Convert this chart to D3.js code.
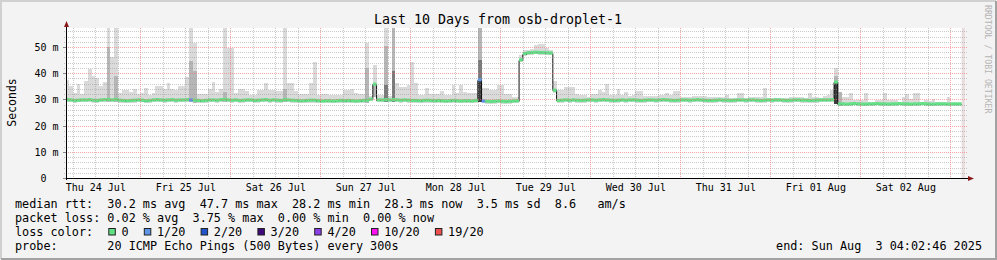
<!DOCTYPE html>
<meta charset="utf-8">
<head>
    <script src="https://d3js.org/d3.v7.min.js"></script>
    <style>
    body { margin: 0; background: #f3f3f3; }
    text { font-family: "DejaVu Sans Mono", monospace; white-space: pre; }
    </style>
</head>
<body>
<script>
// first hourly bucket starts Thu 24 Jul 04:00 UTC, graph covers 10 days
var graphStart = Date.UTC( 2025, 6, 24, 4, 2, 46 ),
    graphEnd   = Date.UTC( 2025, 7, 3, 4, 2, 46 ),
    bucketStart = Date.UTC( 2025, 6, 24, 4, 0, 0 );

// median rtt per hour (ms)
var median = [
29.9,29.8,29.6,29.7,29.8,29.8,29.9,29.7,29.6,29.8,
29.9,30.0,29.8,30.0,29.7,29.6,29.5,29.6,29.7,29.8,
29.7,29.5,29.6,29.8,29.9,29.8,29.7,29.8,29.9,29.7,
29.8,29.8,29.9,29.8,29.7,29.6,29.5,29.6,29.8,29.8,
29.7,29.9,30.0,29.8,29.7,29.8,29.6,29.7,29.8,29.8,
29.6,29.7,29.8,29.9,29.7,29.8,29.7,29.6,29.9,29.8,
29.7,29.6,29.5,29.5,29.6,29.7,29.7,29.5,29.4,29.5,
29.5,29.4,29.5,29.6,29.5,29.6,29.5,29.4,29.5,29.6,
29.7,30.1,35.8,29.8,29.8,29.9,29.8,29.9,29.8,29.7,
29.8,29.7,29.6,29.6,29.5,29.6,29.7,29.6,29.5,29.6,
29.5,29.4,29.5,29.6,29.5,29.4,29.5,29.5,29.4,29.6,
37.5,29.4,29.3,29.2,29.3,29.4,29.3,29.2,29.3,29.4,
29.5,45.1,47.5,47.8,47.9,48.0,47.9,47.9,47.8,47.7,
33.5,29.6,29.7,29.8,29.7,29.8,29.7,29.6,29.7,29.8,
29.8,29.7,29.8,29.9,29.8,29.7,29.6,29.7,29.8,29.7,
29.8,29.8,29.7,29.6,29.7,29.8,29.8,29.7,29.8,29.9,
29.8,29.7,29.6,29.7,29.8,29.8,29.7,29.8,29.9,29.8,
29.7,29.6,29.6,29.7,29.8,29.7,29.7,29.6,29.7,29.8,
29.8,29.7,29.8,29.8,29.7,29.6,29.7,29.8,29.7,29.8,
29.8,29.7,29.6,29.7,29.8,29.8,29.7,29.7,29.6,29.6,
29.7,29.8,29.8,29.8,29.9,36.6,28.3,28.3,28.2,28.3,
28.4,28.3,28.2,28.2,28.3,28.3,28.4,28.3,28.3,28.2,
28.3,28.3,28.4,28.3,28.3,28.2,28.3,28.3,28.4,28.3,
28.2,28.2,28.3,28.3,28.3,28.2,28.3,28.3,28.3,null
];

// lowest ping per hour (ms)
var pingMin = [
29.0,28.9,28.8,28.9,29.0,28.9,29.0,28.8,28.8,28.9,
29.0,29.1,28.9,29.1,28.8,28.7,28.7,28.8,28.8,28.9,
28.9,28.7,28.8,28.9,29.0,28.9,28.8,28.9,29.0,28.8,
28.9,28.9,29.0,28.9,28.8,28.7,28.7,28.8,28.9,28.9,
28.8,29.0,29.1,28.9,28.8,28.9,28.8,28.8,28.9,28.9,
28.8,28.8,28.9,29.0,28.8,28.9,28.8,28.8,29.0,28.9,
28.8,28.7,28.6,28.6,28.7,28.8,28.8,28.6,28.5,28.6,
28.6,28.5,28.6,28.7,28.6,28.7,28.6,28.5,28.6,28.7,
28.8,29.2,31.0,28.9,28.9,28.9,28.9,28.9,28.9,28.8,
28.9,28.8,28.7,28.7,28.6,28.7,28.8,28.7,28.6,28.7,
28.6,28.5,28.6,28.7,28.6,28.5,28.6,28.6,28.5,28.7,
28.9,28.5,28.4,28.3,28.4,28.5,28.4,28.3,28.4,28.5,
28.6,44.3,46.7,47.0,47.1,47.2,47.1,47.1,47.0,46.9,
32.6,28.7,28.8,28.9,28.8,28.9,28.8,28.7,28.8,28.9,
28.9,28.8,28.9,29.0,28.9,28.8,28.7,28.8,28.9,28.8,
28.9,28.9,28.8,28.7,28.8,28.9,28.9,28.8,28.9,29.0,
28.9,28.8,28.7,28.8,28.9,28.9,28.8,28.9,29.0,28.9,
28.8,28.7,28.7,28.8,28.9,28.8,28.8,28.7,28.8,28.9,
28.9,28.8,28.9,28.9,28.8,28.7,28.8,28.9,28.8,28.9,
28.9,28.8,28.7,28.8,28.9,28.9,28.8,28.8,28.7,28.7,
28.8,28.9,28.9,28.9,29.0,28.4,27.6,27.6,27.5,27.6,
27.7,27.6,27.5,27.5,27.6,27.6,27.7,27.6,27.6,27.5,
27.6,27.6,27.7,27.6,27.6,27.5,27.6,27.6,27.7,27.6,
27.5,27.5,27.6,27.6,27.6,27.5,27.6,27.6,27.6,null
];

// highest ping per hour (ms)
var pingMax = [
37.5,35.0,32.5,36.0,32.0,37.0,41.7,39.0,38.0,35.0,
36.7,57.4,46.0,57.4,32.5,33.5,33.5,32.8,34.0,32.0,
32.5,34.3,31.5,32.5,35.3,35.3,34.0,36.3,34.0,33.5,
35.3,35.3,38.5,57.4,51.7,32.0,32.0,32.0,34.0,36.5,
33.0,34.0,57.4,49.6,49.6,32.5,34.0,34.0,33.3,31.7,
31.7,33.7,33.7,36.2,33.7,33.7,33.3,33.3,57.4,36.2,
36.2,33.3,32.1,32.0,32.0,36.2,44.3,31.7,32.0,32.0,
31.8,31.8,31.8,31.8,33.4,33.4,33.9,32.3,32.0,32.0,
51.5,31.3,43.0,31.5,31.5,57.4,31.3,57.4,36.4,34.7,
34.7,35.6,44.3,36.2,31.8,31.8,34.3,32.0,32.0,32.0,
33.3,31.5,31.5,35.6,32.5,35.4,33.0,32.3,32.3,32.3,
57.4,34.3,34.3,33.4,33.4,35.4,35.4,32.0,32.0,31.0,
31.0,47.0,49.0,49.0,49.3,50.8,51.1,51.0,49.5,49.0,
36.9,33.4,33.4,34.7,34.7,34.7,32.0,31.8,31.8,30.8,
32.0,32.0,33.4,33.0,35.9,31.8,31.8,34.0,31.8,33.0,
31.4,31.8,33.3,33.3,31.4,31.4,31.4,31.4,31.8,31.8,
32.6,31.8,33.3,33.3,31.0,31.0,31.0,31.3,31.3,31.4,
31.4,30.9,30.9,30.9,31.0,31.0,31.8,30.7,30.7,32.4,
32.4,30.5,31.0,31.0,30.8,30.9,34.3,30.5,30.5,30.5,
30.5,30.5,30.7,30.8,30.9,31.0,31.0,30.5,32.4,31.0,
31.0,30.6,31.3,31.6,33.7,42.0,33.0,31.0,31.0,32.4,
29.6,29.6,29.6,32.4,29.1,29.1,29.6,29.6,32.4,29.6,
29.6,29.6,29.1,31.0,32.1,30.0,32.4,32.4,29.1,29.6,
29.3,30.3,29.0,29.0,29.0,31.0,28.8,28.8,28.8,null
];

// denser parts of the smoke: [hour index, upper edge in ms]
var midSmoke  = [ [11, 50], [13, 39], [33, 44.5], [34, 41], [42, 33], [58, 34], [80, 42],
                  [82, 36], [85, 50.2], [87, 57.4], [110, 57.4], [205, 38.8], [206, 33] ];
var darkSmoke = [ [85, 35.6], [87, 41], [110, 45.1] ];
var coreSmoke = [ [110, 37.5], [205, 36.6] ];

// hours with packet loss: [hour index, lost pings out of 20]
var lossBuckets = [ [33, 1], [110, 1], [111, 1] ];
// hours with no data yet
var unknownBuckets = [ 239 ];

var yTicks = [ 0, 10, 20, 30, 40, 50 ];
var yTickLabels = [ "0", "10 m", "20 m", "30 m", "40 m", "50 m" ];

var lossLabels = [ "0", "1/20", "2/20", "3/20", "4/20", "10/20", "19/20" ];
var lossLevels = [ 0, 1, 2, 3, 4, 10, 19 ];
var lossColors = [ "#62e085", "#5c94e6", "#2255cc", "#3d0b7a", "#8c3fe6", "#ff10f0", "#ec5050" ];

var titleText = "Last 10 Days from osb-droplet-1";
var medianRttLine = "median rtt:  30.2 ms avg  47.7 ms max  28.2 ms min  28.3 ms now  3.5 ms sd  8.6   am/s";
var packetLossLine = "packet loss: 0.02 % avg  3.75 % max  0.00 % min  0.00 % now";
var probeLine = "probe:       20 ICMP Echo Pings (500 Bytes) every 300s";
var endLine = "end: Sun Aug  3 04:02:46 2025";

// plot area (note: "top" is reserved on window, so prefixed names)
var W = 997, H = 260,
    plotL = 66, plotR = 966, plotT = 28, plotB = 178;

var x = d3.scaleUtc()
    .domain( [ graphStart, graphEnd ] )
    .range( [ 65.5, 965.5 ] );
var y = d3.scaleLinear()
    .domain( [ 0, 57.25 ] )
    .range( [ plotB, plotT ] );

var hour = 3600e3;
function tOf( i ) { return bucketStart + i * hour; }

var svg = d3.select( "body" ).append( "svg" )
    .attr( "width", W )
    .attr( "height", H );

// background and frame
svg.append( "rect" ).attr( "width", W ).attr( "height", H ).attr( "fill", "#f3f3f3" );
svg.append( "path" ).attr( "d", "M1,259V1H996" ).attr( "stroke", "#d0d0d0" ).attr( "stroke-width", 2 ).attr( "fill", "none" );
svg.append( "path" ).attr( "d", "M996,1V259H1" ).attr( "stroke", "#a2a2a2" ).attr( "stroke-width", 2 ).attr( "fill", "none" );

// canvas
svg.append( "rect" )
    .attr( "x", plotL ).attr( "y", plotT )
    .attr( "width", plotR - plotL ).attr( "height", plotB - plotT )
    .attr( "fill", "#ffffff" );

svg.append( "clipPath" ).attr( "id", "plotclip" )
    .append( "rect" )
    .attr( "x", plotL ).attr( "y", plotT )
    .attr( "width", plotR - plotL ).attr( "height", plotB - plotT );

var plot = svg.append( "g" ).attr( "clip-path", "url(#plotclip)" );

/*** smoke ***/
function smokeRects( list, color ) {
    plot.append( "g" )
        .selectAll( "rect" )
        .data( list )
        .enter().append( "rect" )
        .attr( "shape-rendering", "crispEdges" )
        .attr( "x", function(d) { return x( tOf( d[0] ) ); } )
        .attr( "width", function(d) { return x( tOf( d[0] + 1 ) ) - x( tOf( d[0] ) ); } )
        .attr( "y", function(d) { return y( d[1] ); } )
        .attr( "height", function(d) { return y( pingMin[ d[0] ] ) - y( d[1] ); } )
        .attr( "fill", color );
}
var lightSmoke = [];
pingMax.forEach( function(v, i) { if ( v != null ) lightSmoke.push( [ i, v ] ); } );
smokeRects( lightSmoke, "#dadada" );
smokeRects( midSmoke, "#b6b6b6" );
smokeRects( darkSmoke, "#7a7a7a" );
smokeRects( coreSmoke, "#3e3e3e" );

// unknown data
plot.append( "g" )
    .selectAll( "rect" )
    .data( unknownBuckets )
    .enter().append( "rect" )
    .attr( "x", function(d) { return x( tOf( d ) ); } )
    .attr( "width", function(d) { return x( tOf( d + 1 ) ) - x( tOf( d ) ); } )
    .attr( "y", plotT ).attr( "height", plotB - plotT )
    .attr( "fill", "#e9dfe0" );

/*** grid ***/
var grid = svg.append( "g" ).attr( "fill", "none" ).attr( "stroke-dasharray", "1,1" );
d3.range( 2, 57, 2 ).forEach( function(v) {
    var yy = Math.round( y( v ) ) + 0.5;
    grid.append( "line" )
        .attr( "x1", plotL - 2 ).attr( "x2", plotR + 2 )
        .attr( "y1", yy ).attr( "y2", yy )
        .attr( "stroke", v % 10 == 0 ? "rgba(240,110,110,0.6)" : "rgba(150,150,150,0.5)" );
} );
d3.utcHour.every( 6 ).range( new Date( graphStart ), new Date( graphEnd ) ).forEach( function(t) {
    var xx = Math.round( x( t ) ) + 0.5;
    var major = t.getUTCHours() == 0;
    grid.append( "line" )
        .attr( "x1", xx ).attr( "x2", xx )
        .attr( "y1", plotT ).attr( "y2", plotB )
        .attr( "stroke", major ? "rgba(240,110,110,0.6)" : "rgba(150,150,150,0.5)" );
} );

/*** median line, coloured by loss ***/
var medPts = median.map( function(v, i) { return [ tOf( i ), v ]; } );
// close the last known hour
medPts[ median.length - 1 ] = [ tOf( median.length - 1 ), median[ median.length - 2 ] ];
plot.append( "path" )
    .datum( medPts )
    .attr( "fill", "none" )
    .attr( "stroke", "#111" )
    .attr( "stroke-width", 1 )
    .attr( "d", d3.line()
        .defined( function(d) { return d[1] != null; } )
        .curve( d3.curveStepAfter )
        .x( function(d) { return x( d[0] ); } )
        .y( function(d) { return Math.round( y( d[1] ) ) + 0.5; } ) );

var lossOf = {};
lossBuckets.forEach( function(d) { lossOf[ d[0] ] = d[1]; } );
function lossColor( n ) {
    var c = lossColors[0];
    lossLevels.forEach( function(l, k) { if ( n >= l ) c = lossColors[k]; } );
    return c;
}
plot.append( "g" )
    .selectAll( "rect" )
    .data( median.map( function(v, i) { return [ i, v ]; } ).filter( function(d) { return d[1] != null; } ) )
    .enter().append( "rect" )
    .attr( "x", function(d) { return x( tOf( d[0] ) ); } )
    .attr( "width", function(d) { return x( tOf( d[0] + 1 ) ) - x( tOf( d[0] ) ); } )
    .attr( "y", function(d) { return y( d[1] ) - 1.6; } )
    .attr( "height", 3.2 )
    .attr( "fill", function(d) { return lossColor( lossOf[ d[0] ] || 0 ); } );

/*** axes ***/
var axisColor = "#000";
svg.append( "line" )
    .attr( "x1", plotL - 2 ).attr( "x2", plotR + 3 )
    .attr( "y1", plotB + 0.5 ).attr( "y2", plotB + 0.5 )
    .attr( "stroke", axisColor );
svg.append( "line" )
    .attr( "x1", plotL + 0.5 ).attr( "x2", plotL + 0.5 )
    .attr( "y1", plotB + 2 ).attr( "y2", plotT - 3 )
    .attr( "stroke", axisColor );
svg.append( "path" )
    .attr( "d", "M968," + ( plotB - 2 ) + "L974," + ( plotB + 0.5 ) + "L968," + ( plotB + 3 ) + "Z" )
    .attr( "fill", "#8b1a1a" );
svg.append( "path" )
    .attr( "d", "M" + ( plotL - 2 ) + ",27L" + ( plotL + 0.5 ) + ",21L" + ( plotL + 3 ) + ",27Z" )
    .attr( "fill", "#8b1a1a" );

// y ticks and labels
var cw = 6.02;
yTicks.forEach( function(v, i) {
    var yy = Math.round( y( v ) ) + 0.5;
    svg.append( "line" )
        .attr( "x1", plotL - 3 ).attr( "x2", plotL )
        .attr( "y1", yy ).attr( "y2", yy )
        .attr( "stroke", "#888" );
    svg.append( "text" )
        .attr( "x", 58.6 - ( yTickLabels[i].indexOf( "m" ) < 0 ? 2 * cw : 0 ) )
        .attr( "y", yy + 3.6 )
        .attr( "text-anchor", "end" )
        .style( "font-size", "10px" )
        .attr( "fill", "#000" )
        .text( yTickLabels[i] );
} );

// x labels at noon of every day
var noon = d3.utcDay.range( new Date( Date.UTC( 2025, 6, 24 ) ), new Date( graphEnd ) )
    .map( function(d) { return d3.utcHour.offset( d, 12 ); } )
    .filter( function(d) { return d >= graphStart && d <= graphEnd; } );
svg.append( "g" )
    .selectAll( "text" )
    .data( noon )
    .enter().append( "text" )
    .attr( "x", function(d) { return x( d ) + 0.5; } )
    .attr( "y", 190.5 )
    .attr( "text-anchor", "middle" )
    .style( "font-size", "10px" )
    .attr( "fill", "#000" )
    .text( d3.utcFormat( "%a %d %b" ) );

// y title
svg.append( "text" )
    .attr( "transform", "translate(15.5,102.5) rotate(-90)" )
    .attr( "text-anchor", "middle" )
    .style( "font-size", "11.5px" )
    .attr( "fill", "#000" )
    .text( "Seconds" );

// title
svg.append( "text" )
    .attr( "x", 498 ).attr( "y", 24 )
    .attr( "text-anchor", "middle" )
    .style( "font-size", "13.3px" )
    .attr( "fill", "#000" )
    .text( titleText );

// watermark
svg.append( "text" )
    .attr( "transform", "translate(985,5) rotate(90)" )
    .style( "font-size", "8.2px" )
    .attr( "fill", "#b4b4b4" )
    .text( "RRDTOOL / TOBI OETIKER" );

/*** legend ***/
var lw = 7.1, lx = 15, legendSize = "11.8px";
function legendText( str, xx, yy, anchor ) {
    svg.append( "text" )
        .attr( "x", xx ).attr( "y", yy )
        .attr( "text-anchor", anchor || "start" )
        .style( "font-size", legendSize )
        .attr( "fill", "#000" )
        .text( str );
}
legendText( medianRttLine, lx, 207.5 );
legendText( packetLossLine, lx, 221.7 );
legendText( "loss color:", lx, 235.7 );
legendText( probeLine, lx, 250 );
legendText( endLine, 982, 250, "end" );

var col = 13;
lossLabels.forEach( function(lab, k) {
    svg.append( "rect" )
        .attr( "x", lx + col * lw + 1.5 ).attr( "y", 228.5 )
        .attr( "width", 6.5 ).attr( "height", 6.5 )
        .attr( "fill", lossColors[k] )
        .attr( "stroke", "#222" )
        .attr( "stroke-width", 1 );
    legendText( lab, lx + ( col + 2 ) * lw, 235.7 );
    col += 2 + lab.length + 2;
} );
</script>
</body>
</html>
